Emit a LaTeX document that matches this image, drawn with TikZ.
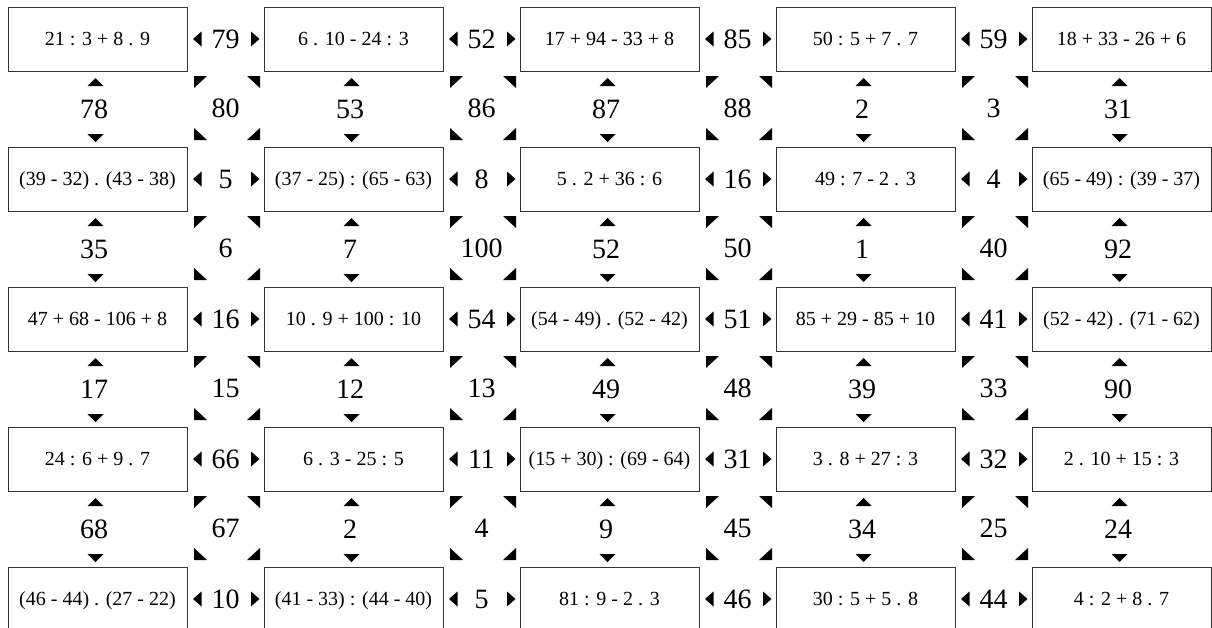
\documentclass[tikz,border=0pt]{standalone}
\usepackage{fontspec}
\setmainfont{Liberation Serif}
\usepackage{tikz}
\usetikzlibrary{calc}

\begin{document}
\begin{tikzpicture}[x=1pt, y=-1pt,
    exprbox/.style={draw=black!80, line width=0.9pt, minimum width=179pt, minimum height=64pt, inner sep=0pt, text height=13.5pt, text depth=0pt, font=\fontsize{20}{24}\selectfont},
    numlabel/.style={inner sep=0pt, font=\fontsize{28}{32}\selectfont},
    tri/.style={fill=black},
]

\useasboundingbox (0,0) rectangle (1212,627);
\clip (0,0) rectangle (1212,627);

% expression boxes
\foreach \txt [count=\k from 0] in {
    {21 : 3 + 8 . 9}, {6 . 10 - 24 : 3}, {17 + 94 - 33 + 8}, {50 : 5 + 7 . 7}, {18 + 33 - 26 + 6},
    {(39 - 32) . (43 - 38)}, {(37 - 25) : (65 - 63)}, {5 . 2 + 36 : 6}, {49 : 7 - 2 . 3}, {(65 - 49) : (39 - 37)},
    {47 + 68 - 106 + 8}, {10 . 9 + 100 : 10}, {(54 - 49) . (52 - 42)}, {85 + 29 - 85 + 10}, {(52 - 42) . (71 - 62)},
    {24 : 6 + 9 . 7}, {6 . 3 - 25 : 5}, {(15 + 30) : (69 - 64)}, {3 . 8 + 27 : 3}, {2 . 10 + 15 : 3},
    {(46 - 44) . (27 - 22)}, {(41 - 33) : (44 - 40)}, {81 : 9 - 2 . 3}, {30 : 5 + 5 . 8}, {4 : 2 + 8 . 7}} {
    \pgfmathtruncatemacro{\r}{div(\k,5)}
    \pgfmathtruncatemacro{\c}{mod(\k,5)}
    \node[exprbox] (e-\r-\c) at (97.5+\c*256, 39+\r*140) {\txt};
}

% numbers between boxes of a row
\foreach \n [count=\k from 0] in {79,52,85,59, 5,8,16,4, 16,54,51,41, 66,11,31,32, 10,5,46,44} {
    \pgfmathtruncatemacro{\r}{div(\k,4)}
    \pgfmathtruncatemacro{\c}{mod(\k,4)}
    \node[numlabel] (h-\r-\c) at ([xshift=128pt]e-\r-\c.center) {\n};
    \fill[tri] ([xshift=-32.5pt]h-\r-\c.center) -- ++(8.5,-7.5) -- ++(0,15) -- cycle;
    \fill[tri] ([xshift=34pt]h-\r-\c.center) -- ++(-8.5,-7.5) -- ++(0,15) -- cycle;
}

% numbers between boxes of a column
\foreach \n [count=\k from 0] in {78,53,87,2,31, 35,7,52,1,92, 17,12,49,39,90, 68,2,9,34,24} {
    \pgfmathtruncatemacro{\r}{div(\k,5)}
    \pgfmathtruncatemacro{\c}{mod(\k,5)}
    \node[numlabel] (v-\r-\c) at ([shift={(-3.5,70)}]e-\r-\c.center) {\n};
    \fill[tri] ([shift={(1.5,-31)}]v-\r-\c.center) -- ++(-8,8) -- ++(16,0) -- cycle;
    \fill[tri] ([shift={(1.5,33)}]v-\r-\c.center) -- ++(-8,-8) -- ++(16,0) -- cycle;
}

% diagonal numbers
\foreach \n [count=\k from 0] in {80,86,88,3, 6,100,50,40, 15,13,48,33, 67,4,45,25} {
    \pgfmathtruncatemacro{\r}{div(\k,4)}
    \pgfmathtruncatemacro{\c}{mod(\k,4)}
    \node[numlabel] (d-\r-\c) at ([shift={(128,69)}]e-\r-\c.center) {\n};
    \foreach \sx/\sy in {-1/-1, 1/-1, -1/1, 1/1} {
        \fill[tri] ([shift={({1.5+33*(\sx)},{32*(\sy)})}]d-\r-\c.center) -- ++({-13*(\sx)},0) -- ++({13*(\sx)},{-12*(\sy)}) -- cycle;
    }
}

\end{tikzpicture}
\end{document}
